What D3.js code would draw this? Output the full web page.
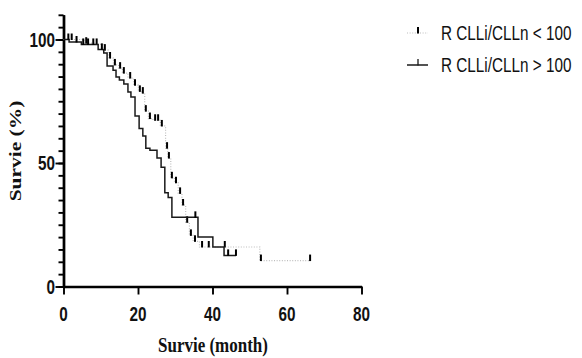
<!DOCTYPE html>
<html>
<head>
<meta charset="utf-8">
<script src="https://cdn.jsdelivr.net/npm/d3@7"></script>
<style>
  body { margin: 0; background: #fff; }
  svg { display: block; }
</style>
</head>
<body>
<svg id="mainSVG" width="582" height="358"></svg>
<script>
var $svg = d3.select("#mainSVG");

// R CLLi/CLLn > 100 (solid)
var hiTimes = [0, 1.5, 4.8, 9.3, 10.8, 11.7, 13.3, 14.1, 15.0, 16.2, 17.3, 18.1, 19.2, 20.3, 21.3, 22.1, 23.2, 25.1, 26.2, 27.2, 28.1, 29.1, 36.1, 40.1, 43.1];
var hiSurv  = [100, 99, 98, 96, 94.5, 89.3, 87.6, 84.8, 83.6, 82, 78.7, 76.7, 69, 64, 60.9, 56, 55.2, 52, 48.3, 38, 36, 28, 20, 16, 12.6];
var hiEnd = 46.3;
var hiCensor = [1.3, 3.5, 5.3, 6.6, 8.0, 10.3, 35.4, 44.2, 46.3];

// R CLLi/CLLn < 100 (dotted)
var loTimes = [0, 5.5, 8.5, 10.6, 12.0, 13.4, 14.8, 15.8, 17.3, 18.8, 20.1, 21.0, 21.8, 22.8, 24.0, 26.0, 27.4, 28.0, 28.8, 29.8, 30.8, 31.8, 32.8, 33.8, 34.8, 36.5, 52.7];
var loSurv  = [100, 98.5, 98, 95.7, 92.5, 89.7, 88.4, 86.4, 84.4, 81.5, 79, 78.3, 71, 68, 67.3, 65, 56, 52, 44, 42, 37.7, 33, 26, 20.7, 18.3, 16, 10.5];
var loEnd = 66.2;
var loCensor = [2.2, 6.1, 8.9, 11.1, 12.5, 13.8, 15.2, 16.2, 17.9, 19.2, 20.5, 21.3, 22.1, 23.2, 24.6, 25.4, 26.4, 27.8, 28.3, 29.1, 30.2, 31.3, 32.1, 33.2, 34.2, 35.3, 37.2, 39.0, 43.3, 53.0, 66.2];

var legendLabels = ["R CLLi/CLLn < 100", "R CLLi/CLLn > 100"];
var xTicks = [0, 20, 40, 60, 80];
var yMajor = [0, 50, 100];

var sansFont = "'Liberation Sans', Arial, sans-serif";
var serifFont = "'Liberation Serif', 'Times New Roman', serif";
var stretch = 1.18;   // text in the picture looks a bit tall

var x = d3.scaleLinear().domain([0, 80]).range([63.5, 361.5]);
var y = d3.scaleLinear().domain([0, 110]).range([286.5, 14.8]);

// axes
var $axes = $svg.append('g').attr('id', 'axes');

$axes.append('g')
    .attr('transform', `translate(${x(0)},0)`)
    .call(d3.axisLeft(y).tickValues(d3.range(0, 111, 5)).tickSize(5).tickSizeOuter(0).tickFormat(''));
$axes.append('g')
    .attr('transform', `translate(${x(0)},0)`)
    .call(d3.axisLeft(y).tickValues(yMajor).tickSize(8).tickSizeOuter(0).tickFormat(''));
$axes.append('g')
    .attr('transform', `translate(0,${y(0)})`)
    .call(d3.axisBottom(x).tickValues(xTicks).tickSize(8).tickSizeOuter(0).tickFormat(''));

$axes.selectAll('path.domain').attr('stroke', '#000').attr('stroke-width', 2.4);
$axes.selectAll('.tick line').attr('stroke', '#000').attr('stroke-width', 1.9);

// tick labels
$svg.append('g').selectAll('text').data(yMajor).enter().append('text')
    .attr('transform', d => `translate(55,${y(d)}) scale(0.9 ${stretch})`)
    .attr('text-anchor', 'end').attr('dy', '0.36em')
    .attr('font-family', sansFont).attr('font-weight', 'bold').attr('font-size', 17)
    .attr('fill', '#111')
    .text(d => d);

$svg.append('g').selectAll('text').data(xTicks).enter().append('text')
    .attr('transform', d => `translate(${x(d)},${y(0) + 34}) scale(0.9 ${stretch})`)
    .attr('text-anchor', 'middle')
    .attr('font-family', sansFont).attr('font-weight', 'bold').attr('font-size', 17)
    .attr('fill', '#111')
    .text(d => d);

// axis titles
$svg.append('text')
    .attr('transform', `translate(213,352) scale(1 ${stretch})`)
    .attr('text-anchor', 'middle')
    .attr('font-family', serifFont).attr('font-weight', 'bold').attr('font-size', 17)
    .attr('fill', '#111')
    .text('Survie (month)');

$svg.append('text')
    .attr('transform', `translate(21,151) scale(1 1.3) rotate(-90)`)
    .attr('text-anchor', 'middle')
    .attr('font-family', serifFont).attr('font-weight', 'bold').attr('font-size', 16.5)
    .attr('fill', '#111')
    .text('Survie (%)');

// survival curves
function stepPoints(times, surv, end){
    let pts = times.map((t, i) => [t, surv[i]]);
    pts.push([end, surv[surv.length - 1]]);
    return pts;
}
function levelAt(times, surv, t){
    let v = surv[0];
    for (let i = 0; i < times.length; i++) if (times[i] <= t) v = surv[i];
    return v;
}

var stepLine = d3.line().x(d => x(d[0])).y(d => y(d[1])).curve(d3.curveStepAfter);

var curves = [
    {times: loTimes, surv: loSurv, end: loEnd, censor: loCensor, stroke: '#bdbdbd', width: 1.2, dash: '1,1.6'},
    {times: hiTimes, surv: hiSurv, end: hiEnd, censor: hiCensor, stroke: '#1a1a1a', width: 1.5, dash: null}
];

var $curves = $svg.append('g').attr('id', 'curves');

curves.forEach(c => {
    $curves.append('path')
        .attr('d', stepLine(stepPoints(c.times, c.surv, c.end)))
        .attr('fill', 'none')
        .attr('stroke', c.stroke)
        .attr('stroke-width', c.width)
        .attr('stroke-dasharray', c.dash);

    $curves.append('g').selectAll('line').data(c.censor).enter().append('line')
        .attr('x1', d => x(d)).attr('x2', d => x(d))
        .attr('y1', d => y(levelAt(c.times, c.surv, d)) + 0.5)
        .attr('y2', d => y(levelAt(c.times, c.surv, d)) - 6)
        .attr('stroke', '#000').attr('stroke-width', 2);
});

// legend
var legendY = [33, 65];
var $legend = $svg.append('g').attr('id', 'legend');

curves.forEach((c, i) => {
    let ly = legendY[i];
    $legend.append('line')
        .attr('x1', 407).attr('x2', 428).attr('y1', ly).attr('y2', ly)
        .attr('stroke', c.stroke).attr('stroke-width', c.width)
        .attr('stroke-dasharray', c.dash);
    $legend.append('line')
        .attr('x1', 418).attr('x2', 418).attr('y1', ly + 0.5).attr('y2', ly - 6)
        .attr('stroke', i == 0 ? '#000' : '#1a1a1a').attr('stroke-width', i == 0 ? 2 : 1.3);
    $legend.append('text')
        .attr('transform', `translate(441,${ly}) scale(0.9 ${stretch})`)
        .attr('dy', '0.36em')
        .attr('font-family', sansFont).attr('font-size', 17)
        .attr('fill', '#111')
        .text(legendLabels[i]);
});
</script>
</body>
</html>
